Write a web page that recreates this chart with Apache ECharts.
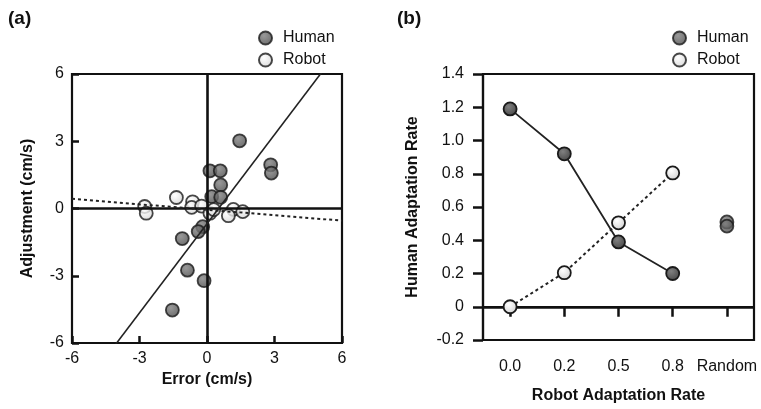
<!DOCTYPE html>
<html>
<head>
<meta charset="utf-8">
<script src="https://cdn.jsdelivr.net/npm/echarts@6/dist/echarts.min.js"></script>
<style>
  html, body { margin: 0; padding: 0; background: #fff; }
  #main { width: 761px; height: 409px; }
</style>
</head>
<body>
<div id="main"></div>
<script>
// panel (a): error vs adjustment
const humanErr = [1.45, 2.83, 2.86, 0.13, 0.59, 0.61, 0.21, 0.61, -0.19, -0.39, -1.10, -0.87, -0.13, -1.54];
const humanAdj = [3.02, 1.95, 1.58, 1.68, 1.68, 1.05, 0.53, 0.50, -0.81, -1.03, -1.34, -2.75, -3.22, -4.53];
const robotErr = [-2.77, -2.70, -1.36, -0.64, -0.68, -0.24, 0.13, 0.30, 1.17, 0.95, 1.59];
const robotAdj = [0.09, -0.21, 0.49, 0.30, 0.05, 0.11, -0.21, -0.05, -0.04, -0.32, -0.14];
// fit lines [slope, intercept]
const humanFit = [1.325, -0.68];
const robotFit = [-0.081, -0.056];
const errTicks = [-6, 6, 3];

// panel (b): adaptation rates
const rateCats = ['0.0', '0.2', '0.5', '0.8', 'Random'];
const humanRate = [1.19, 0.92, 0.39, 0.20];
const robotRate = [0.0, 0.205, 0.505, 0.805];
const randomRate = [0.51, 0.485];

const FONT = "'Liberation Sans Narrow', 'Liberation Sans', Arial, sans-serif";
const dark = new echarts.graphic.RadialGradient(0.4, 0.35, 0.7, [
  {offset: 0, color: '#808080'}, {offset: 1, color: '#454545'}]);
const light = new echarts.graphic.RadialGradient(0.4, 0.35, 0.7, [
  {offset: 0, color: '#ffffff'}, {offset: 1, color: '#d0d0d0'}]);
const darkStyle = {color: dark, borderColor: '#1a1a1a', borderWidth: 1.8};
const lightStyle = {color: light, borderColor: '#1a1a1a', borderWidth: 1.8};

const zip = (a, b) => a.map((v, i) => [v, b[i]]);
const fitLine = (f) => [[errTicks[0], f[0] * errTicks[0] + f[1]], [errTicks[1], f[0] * errTicks[1] + f[1]]];

const chart = echarts.init(document.getElementById('main'));

const tickLabel = {color: '#111', fontSize: 16, fontFamily: FONT};
const nameStyle = {color: '#111', fontSize: 16, fontWeight: 'bold', fontFamily: FONT};

chart.setOption({
  animation: false,
  textStyle: {fontFamily: FONT},
  graphic: [
    {type: 'text', left: 8, top: 9, style: {text: '(a)', fontSize: 19, fontWeight: 'bold', fontFamily: 'Liberation Sans, Arial', fill: '#111'}},
    {type: 'text', left: 397, top: 9, style: {text: '(b)', fontSize: 19, fontWeight: 'bold', fontFamily: 'Liberation Sans, Arial', fill: '#111'}}
  ],
  legend: [
    {left: 253, top: 25, orient: 'vertical', icon: 'circle', itemWidth: 13, itemHeight: 13, itemGap: 6,
      textStyle: {fontSize: 16, color: '#111', fontFamily: 'Liberation Sans, Arial', padding: [0, 0, 0, 6]},
      data: ['Human', 'Robot']},
    {left: 667, top: 25, orient: 'vertical', icon: 'circle', itemWidth: 13, itemHeight: 13, itemGap: 6,
      textStyle: {fontSize: 16, color: '#111', fontFamily: 'Liberation Sans, Arial', padding: [0, 0, 0, 6]},
      data: ['Human', 'Robot']}
  ],
  grid: [
    {left: 72, top: 74, width: 270, height: 269, show: true, borderColor: '#111', borderWidth: 2.2, backgroundColor: 'transparent'},
    {left: 483, top: 74, width: 271, height: 269, show: true, borderColor: '#111', borderWidth: 2.2, backgroundColor: 'transparent'}
  ],
  xAxis: [
    {type: 'value', gridIndex: 0, min: errTicks[0], max: errTicks[1], interval: errTicks[2],
      name: 'Error (cm/s)', nameLocation: 'middle', nameGap: 28, nameTextStyle: nameStyle,
      axisLine: {show: false, onZero: false},
      axisTick: {show: true, inside: true, length: 7, lineStyle: {color: '#111', width: 2.5}},
      axisLabel: Object.assign({margin: 8}, tickLabel),
      splitLine: {show: false}},
    {type: 'category', gridIndex: 1, data: rateCats, boundaryGap: true,
      name: 'Robot Adaptation Rate', nameLocation: 'middle', nameGap: 48, nameTextStyle: nameStyle,
      axisLine: {show: true, lineStyle: {color: '#111', width: 2.2}},
      axisTick: {show: true, alignWithLabel: true, interval: 0, length: 10, lineStyle: {color: '#111', width: 2.5}},
      axisLabel: Object.assign({margin: 19, interval: 0}, tickLabel),
      splitLine: {show: false}}
  ],
  yAxis: [
    {type: 'value', gridIndex: 0, min: errTicks[0], max: errTicks[1], interval: errTicks[2],
      name: 'Adjustment (cm/s)', nameLocation: 'middle', nameGap: 36, nameTextStyle: nameStyle,
      axisLine: {show: false, onZero: false},
      axisTick: {show: true, inside: true, length: 7, lineStyle: {color: '#111', width: 2.5}},
      axisLabel: Object.assign({margin: 8}, tickLabel),
      splitLine: {show: false}},
    {type: 'value', gridIndex: 1, min: -0.2, max: 1.4, interval: 0.2,
      name: 'Human Adaptation Rate', nameLocation: 'middle', nameGap: 62, nameTextStyle: nameStyle,
      axisLine: {show: true, onZero: false, lineStyle: {color: '#111', width: 2.2}},
      axisTick: {show: true, length: 10, lineStyle: {color: '#111', width: 2.5}},
      axisLabel: Object.assign({margin: 19, formatter: v => (Math.abs(v) < 1e-9 ? '0' : v.toFixed(1))}, tickLabel),
      splitLine: {show: false}}
  ],
  series: [
    // panel (a)
    {type: 'line', xAxisIndex: 0, yAxisIndex: 0, data: [], silent: true,
      markLine: {silent: true, symbol: 'none', label: {show: false},
        lineStyle: {color: '#111', width: 2.6, type: 'solid'},
        data: [{xAxis: 0}, {yAxis: 0}]}},
    {name: 'Human', type: 'scatter', xAxisIndex: 0, yAxisIndex: 0, symbolSize: 13,
      itemStyle: darkStyle, data: zip(humanErr, humanAdj), z: 3},
    {name: 'Robot', type: 'scatter', xAxisIndex: 0, yAxisIndex: 0, symbolSize: 13,
      itemStyle: lightStyle, data: zip(robotErr, robotAdj), z: 4},
    {type: 'line', xAxisIndex: 0, yAxisIndex: 0, data: fitLine(humanFit), showSymbol: false, clip: true,
      lineStyle: {color: '#222', width: 1.6}, silent: true, z: 5},
    {type: 'line', xAxisIndex: 0, yAxisIndex: 0, data: fitLine(robotFit), showSymbol: false, clip: true,
      lineStyle: {color: '#222', width: 2, type: [3, 3]}, silent: true, z: 5},
    // panel (b)
    {type: 'line', xAxisIndex: 1, yAxisIndex: 1, data: [], silent: true,
      markLine: {silent: true, symbol: 'none', label: {show: false},
        lineStyle: {color: '#111', width: 2.6, type: 'solid'},
        data: [{yAxis: 0}]}},
    {name: 'Human', type: 'line', xAxisIndex: 1, yAxisIndex: 1, data: humanRate,
      symbol: 'circle', symbolSize: 13, itemStyle: darkStyle,
      lineStyle: {color: '#222', width: 1.8}, z: 4},
    {name: 'Robot', type: 'line', xAxisIndex: 1, yAxisIndex: 1, data: robotRate,
      symbol: 'circle', symbolSize: 13, itemStyle: lightStyle,
      lineStyle: {color: '#222', width: 2, type: [3, 3]}, z: 5},
    {name: 'Human', type: 'scatter', xAxisIndex: 1, yAxisIndex: 1,
      data: randomRate.map(v => [rateCats[4], v]), symbolSize: 13, itemStyle: darkStyle, z: 4}
  ]
});
</script>
</body>
</html>
